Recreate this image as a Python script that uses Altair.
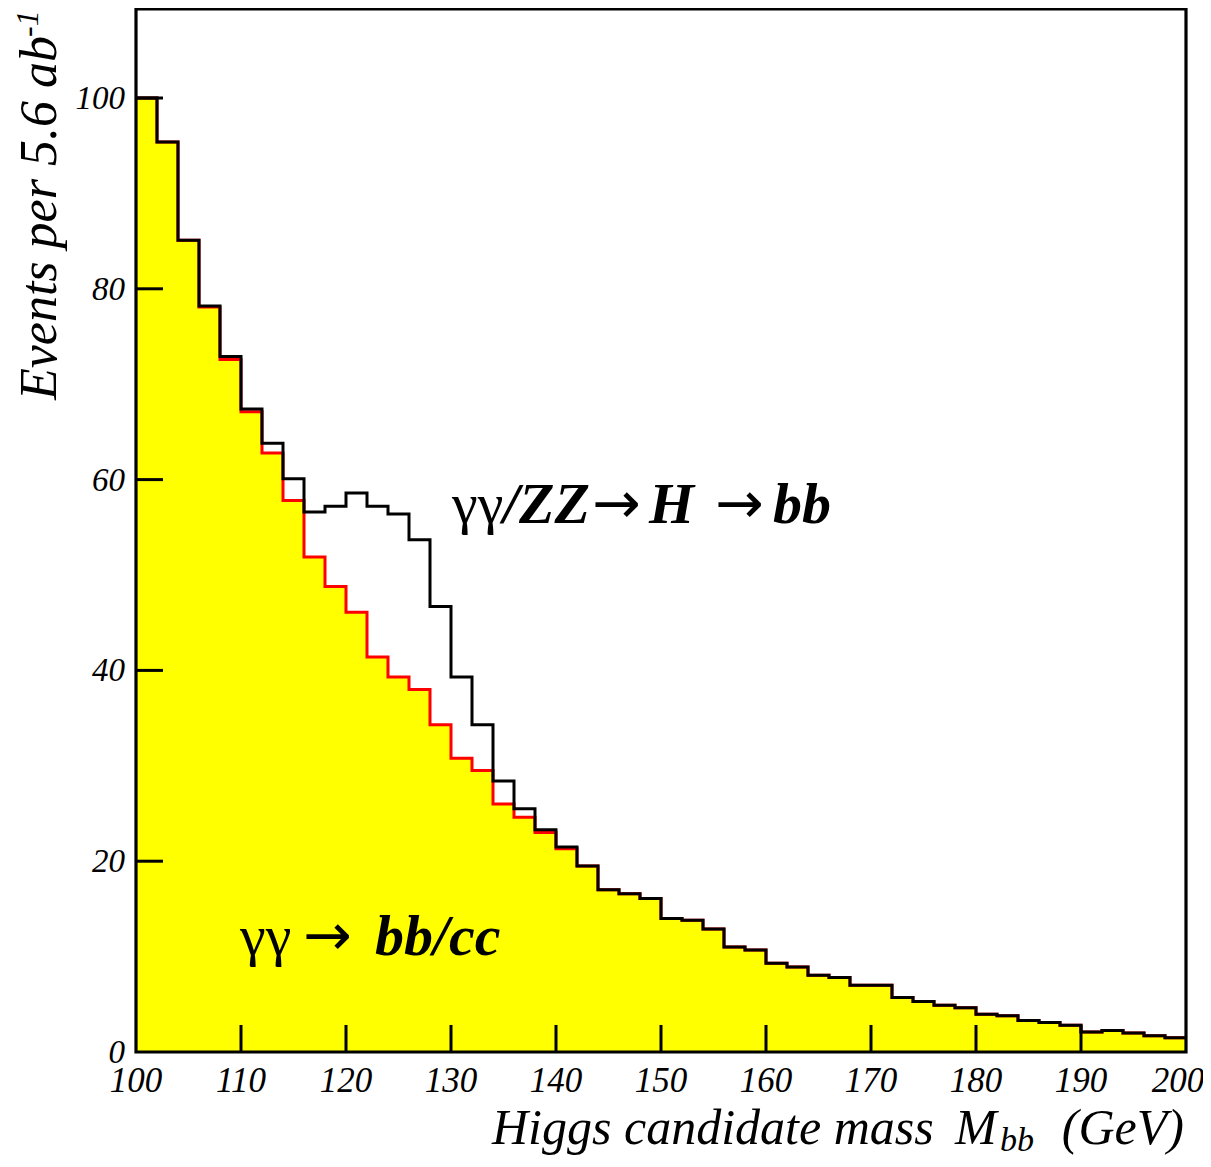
import altair as alt
import pandas as pd

# ---------------- data ----------------
bin_low = list(range(100, 200, 2))          # lower edges of 2 GeV bins
bin_high_end = 200
total = [100.0, 95.4, 85.1, 78.2, 72.9, 67.4, 63.8, 60.1, 56.6, 57.2,
         58.6, 57.2, 56.4, 53.7, 46.7, 39.3, 34.3, 28.4, 25.5, 23.3,
         21.5, 19.5, 17.0, 16.6, 16.1, 14.0, 13.8, 12.9, 11.0, 10.7,
         9.3, 8.9, 8.05, 7.8, 7.0, 7.0, 5.7, 5.3, 4.9, 4.65,
         3.95, 3.8, 3.3, 3.1, 2.8, 2.1, 2.25, 2.0, 1.7, 1.5]
background = [100.0, 95.4, 85.1, 78.1, 72.6, 67.1, 62.8, 57.8, 51.9, 48.8,
              46.1, 41.4, 39.3, 38.0, 34.3, 30.8, 29.5, 26.0, 24.6, 23.0,
              21.3, 19.5, 17.0, 16.6, 16.1, 14.0, 13.8, 12.9, 11.0, 10.7,
              9.3, 8.9, 8.05, 7.8, 7.0, 7.0, 5.7, 5.3, 4.9, 4.65,
              3.95, 3.8, 3.3, 3.1, 2.8, 2.1, 2.25, 2.0, 1.7, 1.5]
x_label_values = list(range(100, 200, 10))
x_last_label = [200]
y_label_values = list(range(0, 101, 20))
x_inner_ticks = list(range(110, 200, 10))
y_inner_ticks = list(range(20, 101, 20))

title_x_main = "Higgs candidate mass"
title_x_m = "M"
title_x_sub = "bb"
title_x_unit = "(GeV)"
title_y_main = "Events per 5.6 ab"
title_y_sup = "-1"
sig_pieces = ["γγ", "/ZZ", "→", "H", "→", "bb"]
bkg_pieces = ["γγ", "→", "bb/cc"]

# ---------------- layout ----------------
W, H = 1050, 1043
YMAX = 109.33
FONT = "Liberation Serif"
ARROW_FONT = "DejaVu Sans"
OX, OY = 136, 9  # page position of plot origin
LW = 3

steps = pd.DataFrame({
    "x": bin_low + [bin_high_end],
    "total": total + [total[-1]],
    "bg": background + [background[-1]],
})

xs = alt.Scale(domain=[100, 200], nice=False, zero=False)
ys = alt.Scale(domain=[0, YMAX], nice=False, zero=True)

fill = alt.Chart(steps).mark_area(interpolate="step-after", color="#ffff00",
                                  opacity=1).encode(
    x=alt.X("x:Q", scale=xs, axis=None),
    y=alt.Y("bg:Q", scale=ys, axis=None),
)
red = alt.Chart(steps).mark_line(interpolate="step-after", color="#ff0000",
                                 strokeWidth=LW).encode(
    x=alt.X("x:Q", scale=xs, axis=None),
    y=alt.Y("bg:Q", scale=ys, axis=None),
)
black = alt.Chart(steps).mark_line(interpolate="step-after", color="black",
                                   strokeWidth=LW).encode(
    x=alt.X("x:Q", scale=xs, axis=None),
    y=alt.Y("total:Q", scale=ys, axis=None),
)

xt = alt.Chart(pd.DataFrame({"v": x_inner_ticks})).mark_rule(
    color="black", strokeWidth=LW).encode(
    x=alt.X("v:Q", scale=xs, axis=None),
    y=alt.value(H), y2=alt.value(H - 27))
yt = alt.Chart(pd.DataFrame({"v": y_inner_ticks})).mark_rule(
    color="black", strokeWidth=LW).encode(
    y=alt.Y("v:Q", scale=ys, axis=None),
    x=alt.value(0), x2=alt.value(27))

frame = alt.Chart(pd.DataFrame({"v": [0]})).mark_rect(
    fill=None, stroke="black", strokeWidth=3.2).encode(
    x=alt.value(0), x2=alt.value(W), y=alt.value(0), y2=alt.value(H))

# tick labels, placed through the scales
xlab = alt.Chart(pd.DataFrame({"v": x_label_values})).mark_text(
    font=FONT, fontSize=35, fontStyle="italic", align="center",
    baseline="alphabetic", color="black").encode(
    x=alt.X("v:Q", scale=xs, axis=None), y=alt.value(1092 - OY),
    text="v:Q")
xlab_last = alt.Chart(pd.DataFrame({"v": x_last_label})).mark_text(
    font=FONT, fontSize=35, fontStyle="italic", align="center",
    baseline="alphabetic", color="black", dx=-8).encode(
    x=alt.X("v:Q", scale=xs, axis=None), y=alt.value(1092 - OY),
    text="v:Q")
ylab = alt.Chart(pd.DataFrame({"v": y_label_values})).mark_text(
    font=FONT, fontSize=33, fontStyle="italic", align="right",
    baseline="alphabetic", color="black", dy=11).encode(
    y=alt.Y("v:Q", scale=ys, axis=None), x=alt.value(125 - OX),
    text="v:Q")


def txt(label, px, py, size, style="normal", weight="normal", angle=0,
        align="left", font=FONT):
    return alt.Chart(pd.DataFrame({"t": [label]})).mark_text(
        font=font, fontSize=size, fontStyle=style, fontWeight=weight,
        angle=angle, align=align, baseline="alphabetic", color="black"
    ).encode(x=alt.value(px - OX), y=alt.value(py - OY), text="t:N")


texts = []
# x title
texts.append(txt(title_x_main, 492, 1144, 50, "italic"))
texts.append(txt(title_x_m, 955, 1144, 50, "italic"))
texts.append(txt(title_x_sub, 1000, 1151, 34, "italic"))
texts.append(txt(title_x_unit, 1184, 1144, 50, "italic", align="right"))
# y title (rotated)
texts.append(txt(title_y_main, 56, 400, 52, "italic", angle=270))
texts.append(txt(title_y_sup, 38, 37, 32, "italic", angle=270))

# signal annotation
sig_x = [452, 503, 592, 649, 715, 773]
sig_style = [("normal", "normal", FONT), ("italic", "bold", FONT),
             ("normal", "normal", ARROW_FONT), ("italic", "bold", FONT),
             ("normal", "normal", ARROW_FONT), ("italic", "bold", FONT)]
for lab, px, (st, wt, fn) in zip(sig_pieces, sig_x, sig_style):
    texts.append(txt(lab, px, 523, 58, st, wt, font=fn))

# background annotation
bkg_x = [240, 303, 375]
bkg_style = [("normal", "normal", FONT), ("normal", "normal", ARROW_FONT),
             ("italic", "bold", FONT)]
for lab, px, (st, wt, fn) in zip(bkg_pieces, bkg_x, bkg_style):
    texts.append(txt(lab, px, 955, 58, st, wt, font=fn))

chart = alt.layer(fill, red, black, xt, yt, frame, xlab, xlab_last, ylab,
                  *texts).properties(
    width=W, height=H,
    autosize=alt.AutoSizeParams(type="none"),
    padding={"left": 128, "top": 1, "right": 17, "bottom": 107},
).configure_view(stroke=None).configure(background="white")

chart.save("out.html", embed_options={"renderer": "svg", "actions": False})
